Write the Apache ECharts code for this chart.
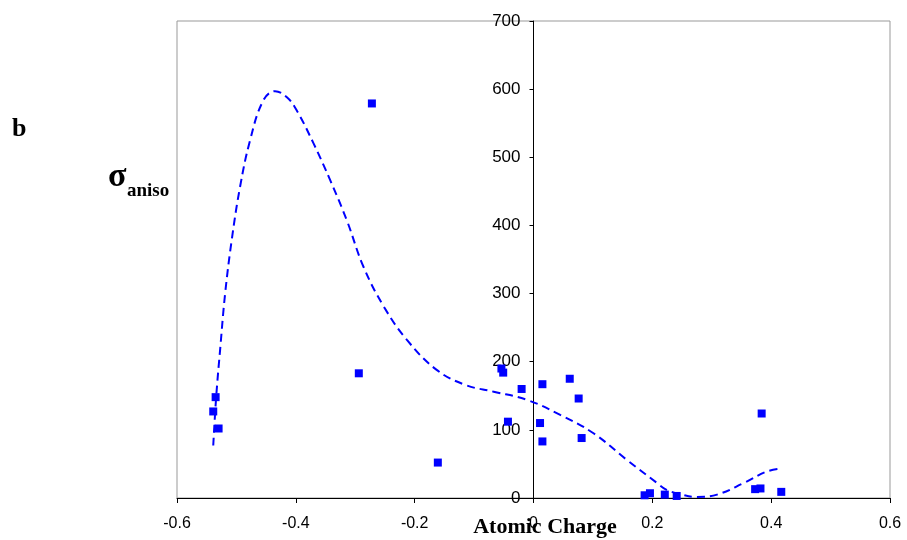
<!DOCTYPE html>
<html>
<head>
<meta charset="utf-8">
<script src="https://cdn.jsdelivr.net/npm/echarts@6/dist/echarts.min.js"></script>
<style>
  html, body { margin: 0; padding: 0; background: #fff; }
  #main { width: 907px; height: 540px; }
</style>
</head>
<body>
<div id="main"></div>
<script>
// measured points (atomic charge, sigma aniso)
var chargeX = [-0.272, -0.294, -0.535, -0.539, -0.530, -0.161, -0.054, -0.051, -0.020, -0.043,
               0.015, 0.011, 0.015, 0.061, 0.076, 0.081, 0.187, 0.196, 0.221, 0.241,
               0.384, 0.373, 0.382, 0.417];
var sigmaY = [579, 183, 148, 127, 102, 52, 190, 184, 160, 112,
              167, 110, 83, 175, 146, 88, 4, 7, 5, 3,
              124, 13, 14, 9];

// trend curve
var trendX = [-0.539, -0.534, -0.527, -0.519, -0.508, -0.494, -0.477, -0.455, -0.435, -0.415,
              -0.398, -0.370, -0.342, -0.314, -0.286, -0.252, -0.213, -0.163, -0.115, -0.067,
              -0.011, 0.045, 0.101, 0.157, 0.208, 0.224, 0.250, 0.275, 0.309, 0.354, 0.393, 0.417];
var trendY = [77, 149, 222, 300, 378, 456, 525, 583, 597, 588,
              568, 520, 466, 407, 339, 281, 232, 188, 166, 156,
              144, 122, 95, 56, 22, 12, 5, 1.5, 5, 22, 39, 43];

var xTicks = [-0.6, -0.4, -0.2, 0, 0.2, 0.4, 0.6];
var yTicks = [0, 100, 200, 300, 400, 500, 600, 700];

var points = chargeX.map(function (x, i) { return [x, sigmaY[i]]; });
var trend = trendX.map(function (x, i) { return [x, trendY[i]]; });

var gridLeft = 177, gridRight = 17;
var plotW = 907 - gridLeft - gridRight;
// y axis sits on x = 0
var yAxisOffset = -plotW * (0 - xTicks[0]) / (xTicks[xTicks.length - 1] - xTicks[0]);

var myChart = echarts.init(document.getElementById('main'));
myChart.setOption({
  backgroundColor: '#fff',
  animation: false,
  grid: {
    left: gridLeft,
    right: gridRight,
    top: 21,
    bottom: 42,
    show: true,
    borderColor: '#999',
    borderWidth: 1
  },
  xAxis: {
    type: 'value',
    min: xTicks[0],
    max: xTicks[xTicks.length - 1],
    interval: 0.2,
    axisLine: { onZero: false, lineStyle: { color: '#000', width: 1 } },
    axisTick: { show: true, length: 5, lineStyle: { color: '#000' } },
    axisLabel: {
      color: '#000',
      fontFamily: 'Liberation Sans',
      fontSize: 16,
      margin: 18,
      formatter: function (v) { return String(Math.round(v * 10) / 10); }
    },
    splitLine: { show: false }
  },
  yAxis: {
    type: 'value',
    position: 'left',
    offset: yAxisOffset,
    min: yTicks[0],
    max: yTicks[yTicks.length - 1],
    interval: 100,
    axisLine: { show: true, onZero: false, lineStyle: { color: '#000', width: 1 } },
    axisTick: { show: true, length: 4, lineStyle: { color: '#000' } },
    axisLabel: {
      color: '#000',
      fontFamily: 'Liberation Sans',
      fontSize: 17,
      margin: 13
    },
    splitLine: { show: false }
  },
  series: [
    {
      type: 'line',
      data: trend,
      smooth: 0.4,
      showSymbol: false,
      symbol: 'none',
      lineStyle: { color: '#0000ff', width: 2, type: [8, 5] },
      z: 2
    },
    {
      type: 'scatter',
      data: points,
      symbol: 'rect',
      symbolSize: 8,
      itemStyle: { color: '#0000ff', opacity: 1 },
      z: 3
    }
  ],
  graphic: [
    {
      type: 'text', x: 12, y: 129,
      style: { text: 'b', font: 'bold 26px "Liberation Serif"', fill: '#000', verticalAlign: 'middle' }
    },
    {
      type: 'text', x: 108, y: 177,
      style: { text: 'σ', font: 'bold 34px "Liberation Serif"', fill: '#000', verticalAlign: 'middle' }
    },
    {
      type: 'text', x: 127, y: 191,
      style: { text: 'aniso', font: 'bold 19px "Liberation Serif"', fill: '#000', verticalAlign: 'middle' }
    },
    {
      type: 'text', x: 545, y: 527,
      style: {
        text: 'Atomic Charge', font: 'bold 22px "Liberation Serif"', fill: '#000',
        align: 'center', verticalAlign: 'middle'
      }
    }
  ]
});
</script>
</body>
</html>
